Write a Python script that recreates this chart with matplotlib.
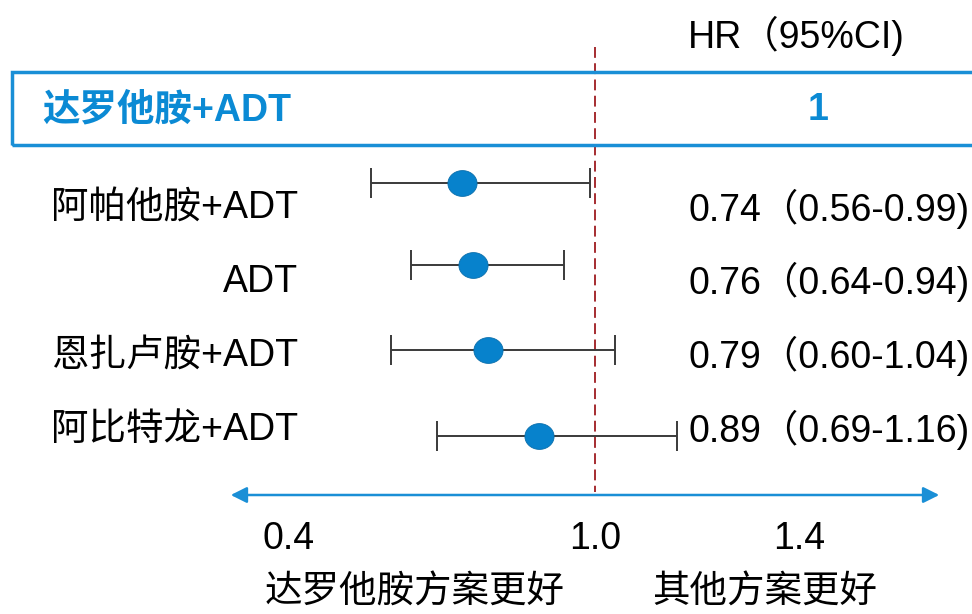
import matplotlib.pyplot as plt
from matplotlib.path import Path
from matplotlib.patches import Rectangle, FancyArrowPatch
import numpy as np

# ---- dados ----
referencia = "达罗他胺+ADT"
referencia_hr = "1"
tratamentos = ["阿帕他胺+ADT", "ADT", "恩扎卢胺+ADT", "阿比特龙+ADT"]
hr = [0.74, 0.76, 0.79, 0.89]
ic_baixo = [0.56, 0.64, 0.60, 0.69]
ic_alto = [0.99, 0.94, 1.04, 1.16]
ticks = [0.4, 1.0, 1.4]
tick_labels = ["0.4", "1.0", "1.4"]
lado_esq = "达罗他胺方案更好"
lado_dir = "其他方案更好"
cabecalho = "HR（95%CI)"

# ---- layout (pixels, figura 972x614) ----
W, H = 972, 614
ESCALA = 510.0  # px por unidade de HR
X_UM = 595.0    # posição em px do HR = 1
y_barras = [183, 265, 350, 436]
y_textos = [209, 282, 356, 430]
AZUL = "#1a8fd6"
AZUL_TXT = "#0b8ad4"
FS = 27
fam = ["Liberation Sans", "Noto Sans CJK SC", "DejaVu Sans"]
plt.rcParams["font.family"] = fam

fig = plt.figure(figsize=(W / 100, H / 100), dpi=100)
ax = fig.add_axes([0, 0, 1, 1])
ax.set_xlim(1 - X_UM / ESCALA, 1 + (W - X_UM) / ESCALA)
ax.set_ylim(H, 0)
ax.axis("off")


def fx(px):
    return px / W


def fy(py):
    return 1 - py / H


# caixa de referência
box = Rectangle((fx(12), fy(145)), 1.2, fy(72) - fy(145), transform=fig.transFigure,
                fill=False, edgecolor=AZUL, linewidth=2.5, clip_on=False)
fig.patches.append(box)
fig.text(fx(42), fy(110), referencia, color=AZUL_TXT, fontsize=FS, fontweight="bold",
         ha="left", va="center")
fig.text(fx(818), fy(110), referencia_hr, color=AZUL_TXT, fontsize=FS, fontweight="bold",
         ha="center", va="center")
fig.text(fx(688), fy(36), cabecalho, fontsize=FS, ha="left", va="center")

# linha de referência
ax.plot([1.0, 1.0], [47, 492], color="#9e1b20", linestyle=(0, (6, 3)), linewidth=1.3)

# marcador elíptico
t = np.linspace(0, 2 * np.pi, 60)
elipse = Path(np.column_stack([1.13 * np.cos(t), np.sin(t)]))

for i in range(len(tratamentos)):
    yb = y_barras[i]
    ax.errorbar(hr[i], yb, xerr=[[hr[i] - ic_baixo[i]], [ic_alto[i] - hr[i]]],
                fmt="none", ecolor="#3a3a3a", elinewidth=1.4, capsize=11, capthick=1.4)
    ax.plot(hr[i], yb, marker=elipse, markersize=21, color="#0782cc",
            markeredgecolor="#0a6eab", markeredgewidth=0.6, zorder=3)
    fig.text(fx(298), fy(y_textos[i]), tratamentos[i], fontsize=FS, ha="right", va="center")
    txt = f"{hr[i]:.2f}（{ic_baixo[i]:.2f}-{ic_alto[i]:.2f})"
    fig.text(fx(688), fy(y_textos[i]), txt, fontsize=FS, ha="left", va="center")

# eixo com seta dupla
seta = FancyArrowPatch((1 - (X_UM - 228) / ESCALA, 495), (1 + (942 - X_UM) / ESCALA, 495),
                       arrowstyle="<|-|>", mutation_scale=24, color=AZUL, linewidth=1.8)
ax.add_patch(seta)
for v, lab in zip(ticks, tick_labels):
    ax.text(v, 539, lab, fontsize=FS, ha="center", va="center")

fig.text(fx(415), fy(593), lado_esq, fontsize=FS, ha="center", va="center")
fig.text(fx(765), fy(593), lado_dir, fontsize=FS, ha="center", va="center")

fig.savefig("out.png", dpi=100, facecolor="white")
